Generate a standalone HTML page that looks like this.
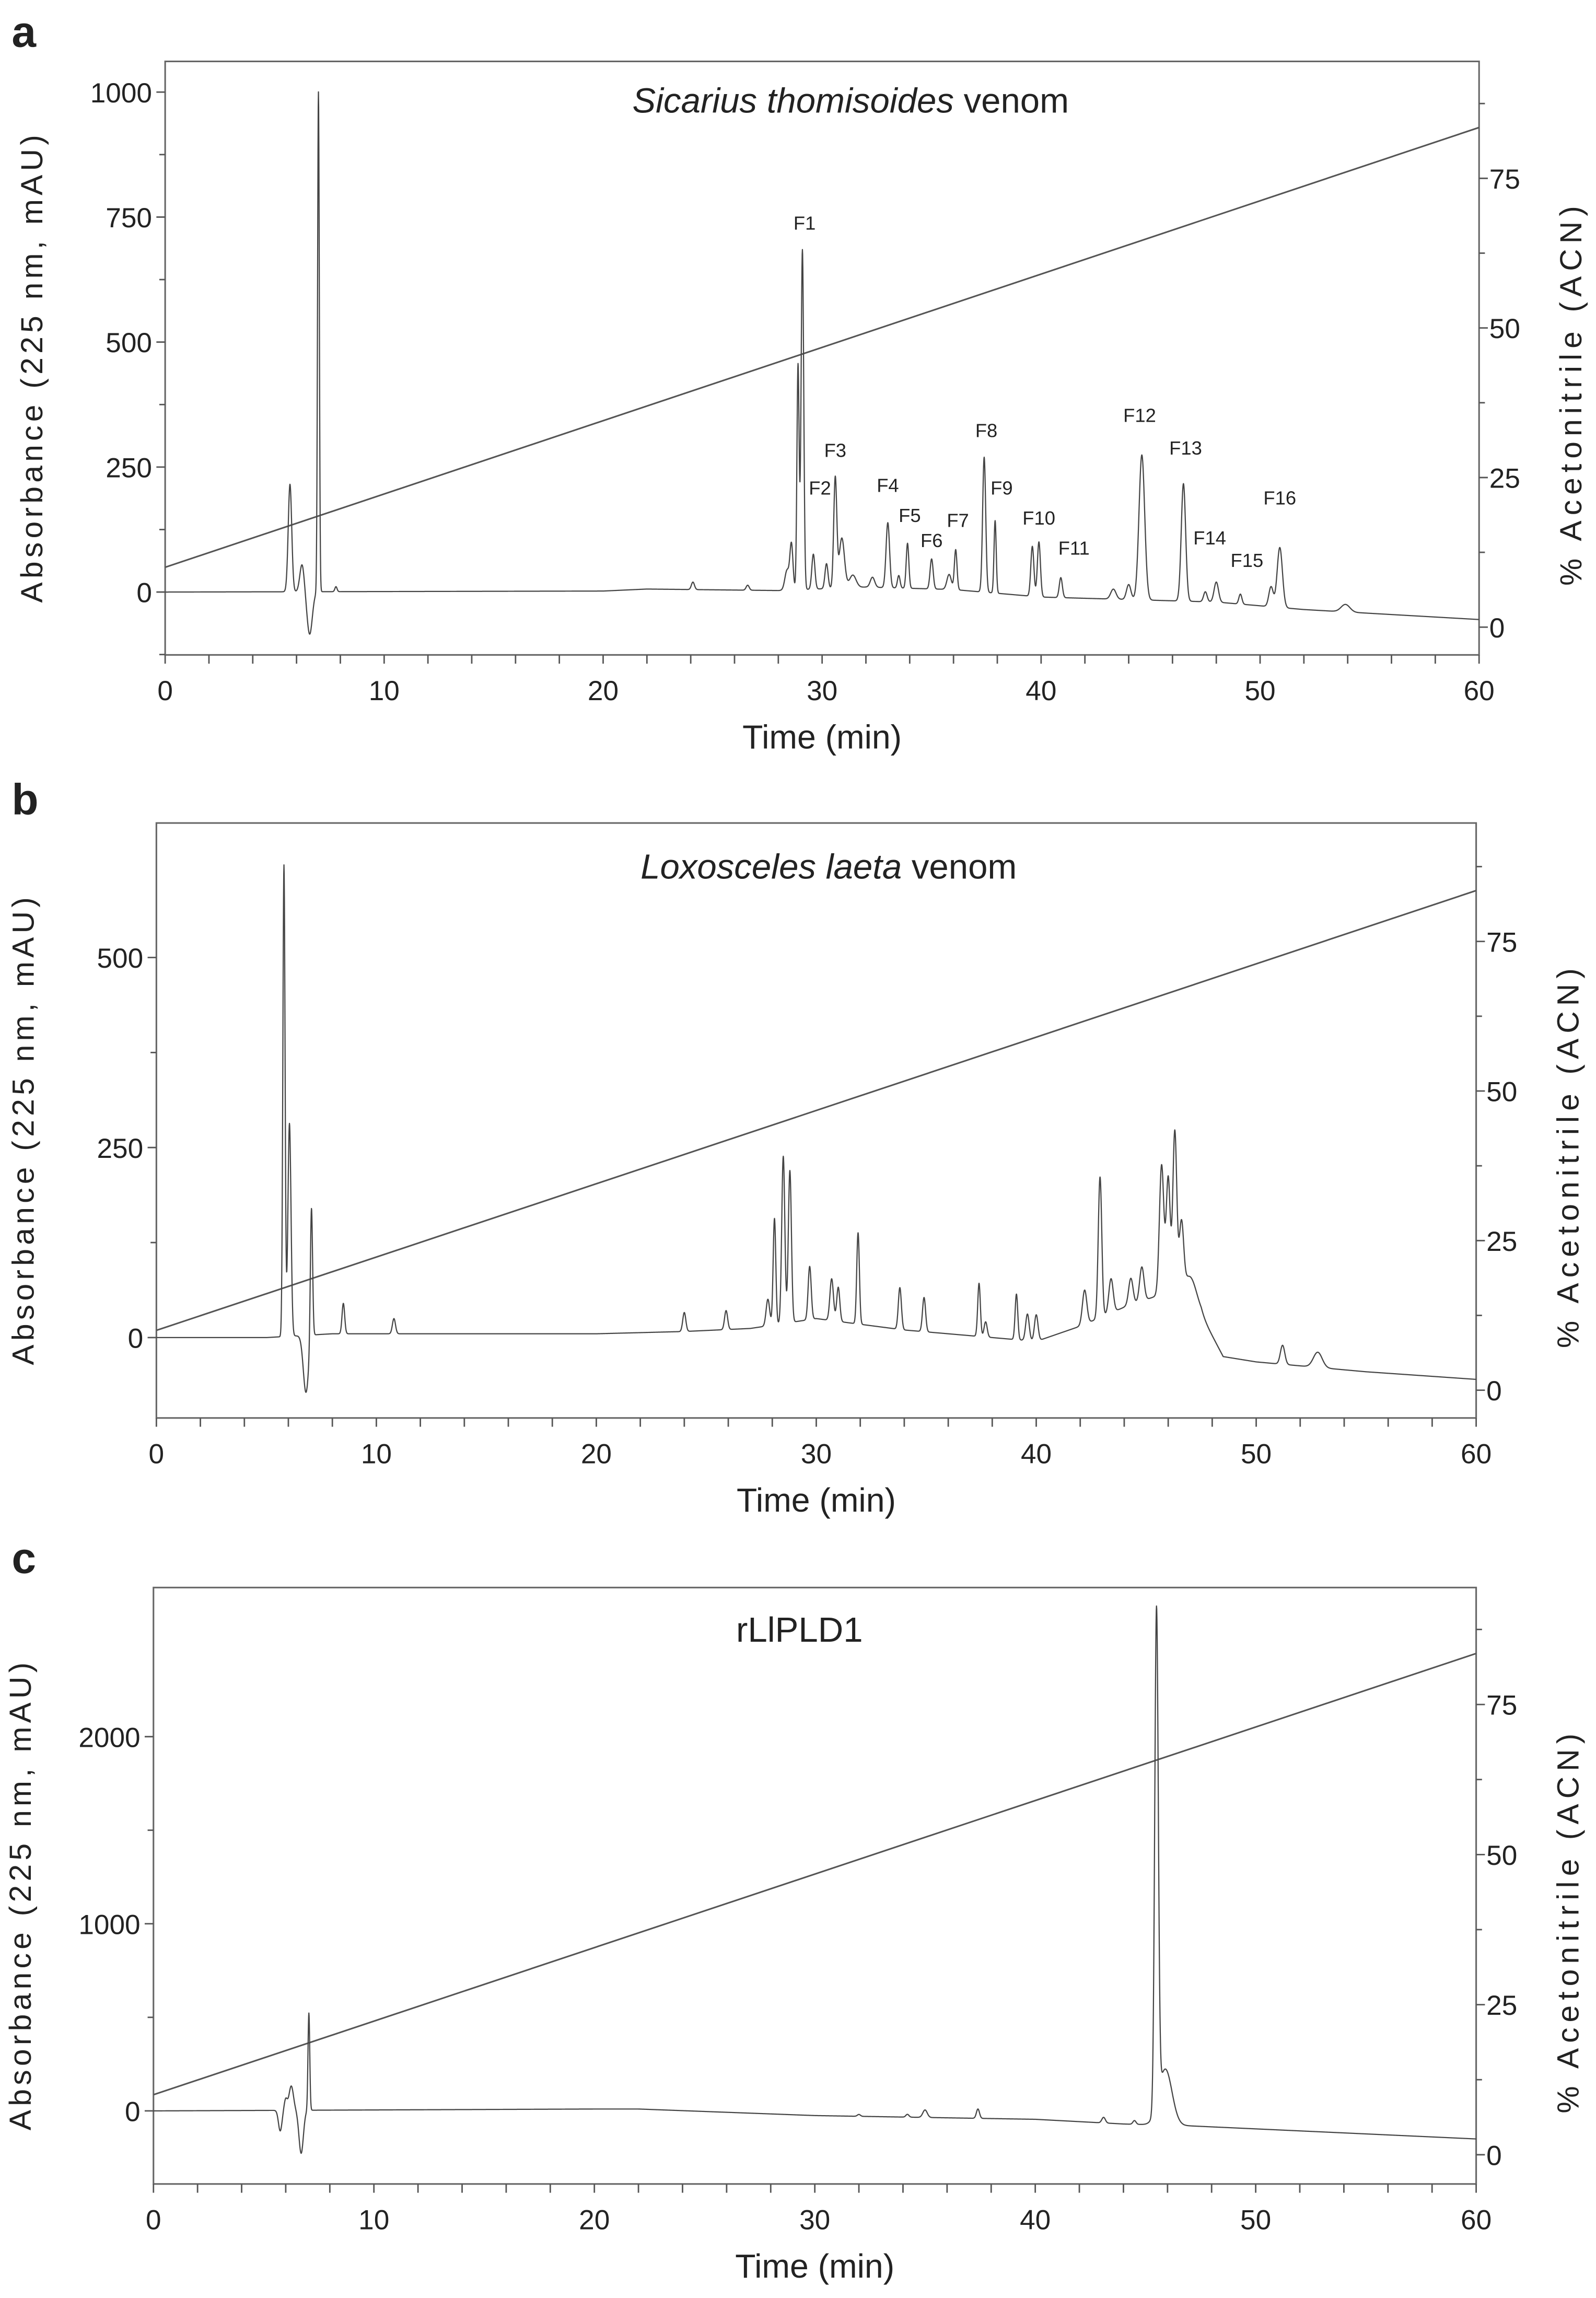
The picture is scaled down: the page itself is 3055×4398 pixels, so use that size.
<!DOCTYPE html>
<html><head><meta charset="utf-8">
<style>
html,body{margin:0;padding:0;background:#fff;}
svg{display:block;}
text{font-family:"Liberation Sans",sans-serif;fill:#222;}
.tick{font-family:"Liberation Sans Narrow","Liberation Sans",sans-serif;font-size:19px;}
.ttl{font-size:24px;}
.xtl{font-size:23px;}
.ytl{font-size:21px;letter-spacing:2.6px;}
.rtl{font-size:21px;letter-spacing:3.6px;}
.pl{font-size:30px;font-weight:bold;}
.fl{font-size:13px;}
</style></head>
<body>
<svg id="fig" width="3055" height="4398" viewBox="0 0 1092 1572" preserveAspectRatio="none" xmlns="http://www.w3.org/2000/svg">
<text class="pl" x="8" y="32">a</text>
<text class="pl" x="8" y="557">b</text>
<text class="pl" x="8" y="1076">c</text>
</svg>
<script>
// ---- Panel A data (Sicarius thomisoides) ----
const peakTimesA = [5.7,6.25,6.6,7.0,7.8,24.1,26.6,28.4,28.6,28.9,29.1,29.6,30.2,30.6,30.9,31.4,32.3,33.0,33.5,33.9,35.0,35.8,36.1,37.4,37.9,39.6,39.9,40.9,43.3,44.0,44.6,46.5,47.5,48.0,49.1,50.5,50.9,53.9];
const peakHeightsA = [215,55,-85,1000,10,15,10,40,90,450,680,70,50,220,100,25,20,130,25,90,60,30,80,270,145,100,110,40,20,30,290,235,20,40,20,40,120,15];
const peakWidthsA = [0.08,0.1,0.12,0.04,0.05,0.07,0.07,0.1,0.07,0.05,0.06,0.07,0.07,0.07,0.12,0.15,0.1,0.08,0.06,0.06,0.07,0.1,0.06,0.07,0.05,0.07,0.07,0.07,0.12,0.1,0.13,0.1,0.08,0.1,0.07,0.1,0.12,0.2];
const baseTimesA = [0,20,22,28,32,36,40,44,48,52,56,60];
const baseValsA = [0,2,6,3,10,5,-10,-15,-20,-35,-45,-55];
const fracLabels = ["F1","F2","F3","F4","F5","F6","F7","F8","F9","F10","F11","F12","F13","F14","F15","F16"];
const fracTimes = [29.2,29.9,30.6,33.0,34.0,35.0,36.2,37.5,38.2,39.9,41.5,44.5,46.6,47.7,49.4,50.9];
const fracVals = [725,195,270,200,140,90,130,310,195,135,75,340,275,95,50,175];
// ---- Panel B data (Loxosceles laeta) ----
const peakTimesB = [5.8,6.05,6.8,7.05,8.5,10.8,24.0,25.9,27.8,28.1,28.5,28.8,29.7,30.7,31.0,31.9,33.8,34.9,37.4,37.7,39.1,39.6,40.0,42.2,42.9,43.4,44.3,44.8,45.7,46.0,46.3,46.6,47.0,51.2,52.8];
const peakHeightsB = [620,280,-75,175,40,20,25,25,35,140,220,200,70,55,45,120,55,45,70,20,60,35,35,45,185,45,35,45,170,150,215,90,40,25,20];
const peakWidthsB = [0.05,0.07,0.12,0.05,0.06,0.07,0.07,0.07,0.08,0.06,0.07,0.07,0.07,0.08,0.07,0.06,0.07,0.07,0.06,0.07,0.06,0.08,0.08,0.1,0.08,0.1,0.1,0.1,0.1,0.09,0.09,0.1,0.3,0.1,0.2];
const baseTimesB = [0,5,8,20,24,27,30,34,36,38,40,42,44,46,47.5,48.5,50,55,60];
const baseValsB = [0,0,5,5,8,12,25,10,5,0,-5,15,40,60,30,-25,-32,-45,-55];
// ---- Panel C data (rLlPLD1) ----
const peakTimesC = [5.75,6.0,6.25,6.7,7.05,32.0,34.2,35.0,37.4,43.1,44.5,45.5,45.9];
const peakHeightsC = [-110,60,130,-230,520,10,15,40,50,30,20,2650,300];
const peakWidthsC = [0.08,0.07,0.1,0.1,0.04,0.07,0.07,0.1,0.07,0.08,0.07,0.08,0.3];
const baseTimesC = [0,20,22,30,40,44,47,60];
const baseValsC = [0,10,10,-25,-45,-70,-80,-150];
// ---- Axis tick labels ----
const xTicks = [0,10,20,30,40,50,60];
const yTicksA = [0,250,500,750,1000];
const yTicksB = [0,250,500];
const yTicksC = [0,1000,2000];
const rTicks = [0,25,50,75];
const gradStart = 10, gradEnd = 83.5;

const NS="http://www.w3.org/2000/svg";
const svg=document.getElementById('fig');
function mk(tag,attrs,parent){const e=document.createElementNS(NS,tag);for(const k in attrs)e.setAttribute(k,attrs[k]);(parent||svg).appendChild(e);return e;}
function interp(ts,vs,t){for(let i=1;i<ts.length;i++){if(t<=ts[i]){const f=(t-ts[i-1])/(ts[i]-ts[i-1]);return vs[i-1]+f*(vs[i]-vs[i-1]);}}return vs[vs.length-1];}
function signal(t,pt,ph,pw,bt,bv){let v=interp(bt,bv,t);for(let i=0;i<pt.length;i++){const d=(t-pt[i])/pw[i];if(Math.abs(d)<6)v+=ph[i]*Math.exp(-0.5*d*d);}return v;}

function panel(cfg){
  const g=mk('g',{});
  
  
  const X=t=>cfg.L+(cfg.R-cfg.L)*t/60;
  const Y=v=>cfg.y0+(cfg.y1-cfg.y0)*v/cfg.yv1;
  const Yr=p=>cfg.r0+(cfg.r75-cfg.r0)*p/75;
  const frame=mk('rect',{x:cfg.L,y:cfg.T,width:cfg.R-cfg.L,height:cfg.B-cfg.T,fill:'none',stroke:'#666','stroke-width':1.1},g);
  
  
  for(let t=0;t<=60;t+=2){mk('line',{x1:X(t),x2:X(t),y1:cfg.B,y2:cfg.B+6,stroke:'#555','stroke-width':1},g);}
  xTicks.forEach(t=>{const tx=mk('text',{x:X(t),y:cfg.B+31,'text-anchor':'middle',class:'tick'},g);tx.textContent=t;
    
    });
  const xt=mk('text',{x:(cfg.L+cfg.R)/2,y:cfg.B+64,'text-anchor':'middle',class:'xtl'},g);xt.textContent='Time (min)';
  
  
  cfg.yTicks.forEach(v=>{mk('line',{x1:cfg.L-6,x2:cfg.L,y1:Y(v),y2:Y(v),stroke:'#555','stroke-width':1},g);
    const tx=mk('text',{x:cfg.L-9,y:Y(v)+7,'text-anchor':'end',class:'tick'},g);tx.textContent=v;
    
    });
  for(let v=cfg.minor;v<=cfg.yv1*1.05;v+=cfg.minor*2){if(Y(v)>cfg.T)mk('line',{x1:cfg.L-4,x2:cfg.L,y1:Y(v),y2:Y(v),stroke:'#555','stroke-width':1},g);}
  if(Y(-cfg.minor)<cfg.B)mk('line',{x1:cfg.L-4,x2:cfg.L,y1:Y(-cfg.minor),y2:Y(-cfg.minor),stroke:'#555','stroke-width':1},g);
  const yt=mk('text',{transform:`translate(${cfg.L-84},${(cfg.T+cfg.B)/2+6}) rotate(-90)`,'text-anchor':'middle',class:'ytl'},g);yt.textContent='Absorbance (225 nm, mAU)';
  
  
  for(let p=-12.5;p<=90;p+=12.5){const yy=Yr(p);if(yy>cfg.T&&yy<cfg.B)mk('line',{x1:cfg.R,x2:cfg.R+(p%25===0?6:4),y1:yy,y2:yy,stroke:'#555','stroke-width':1},g);}
  rTicks.forEach(p=>{const tx=mk('text',{x:cfg.R+7,y:Yr(p)+7,class:'tick'},g);tx.textContent=p;
    
    });
  const rt=mk('text',{transform:`translate(${cfg.R+70},${(cfg.T+cfg.B)/2+24}) rotate(-90)`,'text-anchor':'middle',class:'rtl'},g);rt.textContent='% Acetonitrile (ACN)';
  
  
  const gl=mk('line',{x1:X(0),y1:Yr(gradStart),x2:X(60),y2:Yr(gradEnd),stroke:'#555','stroke-width':1.1},g);
  
  
  let d='';for(let t=0;t<=60.001;t+=0.01){const v=signal(t,cfg.pt,cfg.ph,cfg.pw,cfg.bt,cfg.bv);d+=(d?'L':'M')+X(t).toFixed(2)+','+Y(v).toFixed(2);}
  const tr=mk('path',{d:d,fill:'none',stroke:'#444','stroke-width':0.8,'stroke-linejoin':'round'},g);
  
  
  const ti=mk('text',{x:cfg.titleX,y:cfg.titleY,'text-anchor':'middle',class:'ttl'},g);
  ti.innerHTML=cfg.title;
  
  
  return {X,Y,g};
}

const A=panel({name:'panel-a',L:113,R:1012,T:42,B:448,y0:405,y1:63,yv1:1000,minor:125,r0:429,r75:122,yTicks:yTicksA,
  pt:peakTimesA,ph:peakHeightsA,pw:peakWidthsA,bt:baseTimesA,bv:baseValsA,titleX:582,titleY:77,
  title:'<tspan font-style="italic">Sicarius thomisoides</tspan> venom'});
fracLabels.forEach((lab,i)=>{const tx=mk('text',{x:A.X(fracTimes[i]),y:A.Y(fracVals[i]),'text-anchor':'middle',class:'fl'},A.g);tx.textContent=lab;
  
  });
panel({name:'panel-b',L:107,R:1010,T:563,B:970,y0:915,y1:655,yv1:500,minor:125,r0:951,r75:644,yTicks:yTicksB,
  pt:peakTimesB,ph:peakHeightsB,pw:peakWidthsB,bt:baseTimesB,bv:baseValsB,titleX:567,titleY:601,
  title:'<tspan font-style="italic">Loxosceles laeta</tspan> venom'});
panel({name:'panel-c',L:105,R:1010,T:1086,B:1494,y0:1444,y1:1188,yv1:2000,minor:500,r0:1474,r75:1166,yTicks:yTicksC,
  pt:peakTimesC,ph:peakHeightsC,pw:peakWidthsC,bt:baseTimesC,bv:baseValsC,titleX:547,titleY:1123,
  title:'rLlPLD1'});
</script>
</body></html>
